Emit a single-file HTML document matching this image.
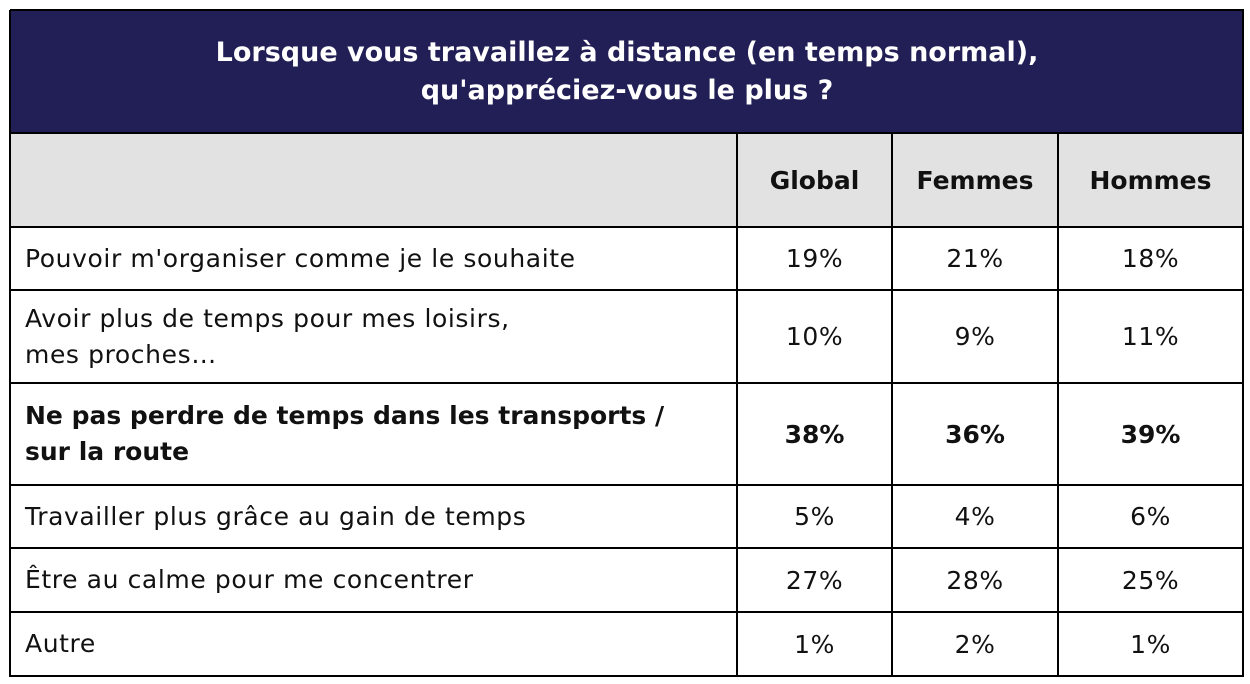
<!DOCTYPE html>
<html><head><meta charset="utf-8"><style>
body{margin:0;width:1250px;height:684px;background:#fff;font-family:"DejaVu Sans","Liberation Sans",sans-serif;position:relative;overflow:hidden}
.c{position:absolute;box-sizing:border-box;display:flex;align-items:center;color:#111;font-size:25px;letter-spacing:0.6px;white-space:nowrap}
.v{justify-content:center}
.l{padding-left:15px;line-height:36px}
.b{font-weight:bold;letter-spacing:0}
.line{position:absolute;background:#000}
</style></head><body>
<div class="c" style="left:10px;top:10px;width:1234px;height:123px;background:#211f55;color:#fff;justify-content:center;text-align:center;font-weight:bold;font-size:27px;line-height:38px;letter-spacing:0">Lorsque vous travaillez à distance (en temps normal),<br>qu'appréciez-vous le plus ?</div>
<div class="c" style="left:10px;top:133px;width:1234px;height:94px;background:#e2e2e2"></div>
<div id="t"></div>
<script>
const labels=["Pouvoir m'organiser comme je le souhaite","Avoir plus de temps pour mes loisirs,<br>mes proches…","Ne pas perdre de temps dans les transports /<br>sur la route","Travailler plus grâce au gain de temps","Être au calme pour me concentrer","Autre"];
const globalVals=["19%","10%","38%","5%","27%","1%"];
const femmesVals=["21%","9%","36%","4%","28%","2%"];
const hommesVals=["18%","11%","39%","6%","25%","1%"];
const headers=["Global","Femmes","Hommes"];
const rowY=[227,290,383,485,548,612,676];
const colX=[10,737,892,1058,1243];
const t=document.getElementById('t');
function cell(x,y,w,h,html,cls,name){const d=document.createElement('div');d.className='c '+cls;d.style.cssText=`left:${x}px;top:${y}px;width:${w}px;height:${h}px`;d.innerHTML=html;


t.appendChild(d);}
headers.forEach((h,i)=>cell(colX[i+1],133,colX[i+2]-colX[i+1],94,h,'v b','header-'+h.toLowerCase()));
const cols=[globalVals,femmesVals,hommesVals];
labels.forEach((lab,r)=>{const y=rowY[r],h=rowY[r+1]-y,bold=r===2?' b':'';
cell(colX[0],y,colX[1]-colX[0],h,lab,'l'+bold,'row-label');
cols.forEach((arr,i)=>cell(colX[i+1],y,colX[i+2]-colX[i+1],h,arr[r],'v'+bold,'value-cell'));});
function ln(x,y,w,h){const d=document.createElement('div');d.className='line';d.style.cssText=`left:${x}px;top:${y}px;width:${w}px;height:${h}px`;


t.appendChild(d);}
[10,133].concat(rowY).forEach(y=>ln(10,y-1,1234,2));
colX.forEach((x,i)=>ln(x-1,i===0||i===4?10:133,2,i===0||i===4?667:544));
</script>
</body></html>
